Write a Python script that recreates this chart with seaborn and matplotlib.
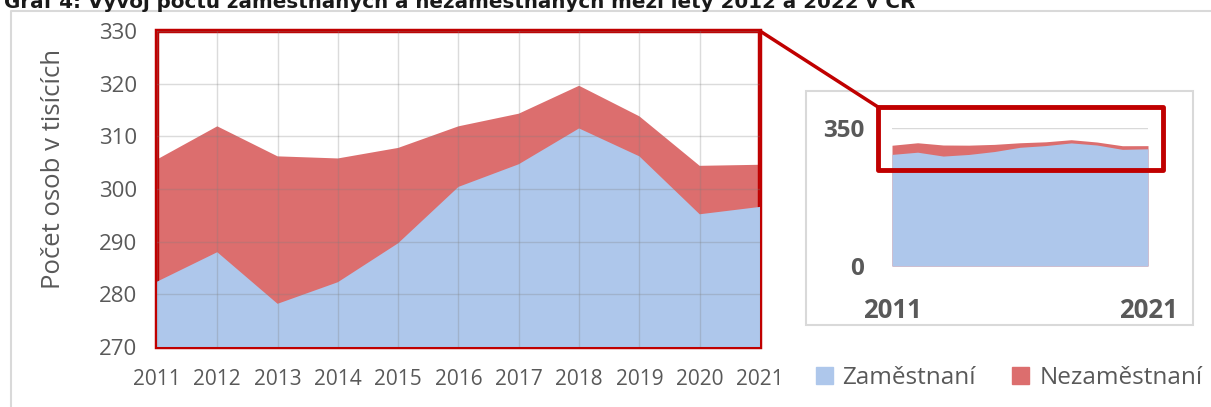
import numpy as np
import matplotlib.pyplot as plt
import seaborn as sns
from matplotlib.patches import Rectangle
from matplotlib.lines import Line2D

sns.set_style("white")
plt.rcParams['font.family'] = ['Open Sans', 'DejaVu Sans']

years = [2011, 2012, 2013, 2014, 2015, 2016, 2017, 2018, 2019, 2020, 2021]
zamestnani = [282.4, 288.0, 278.2, 282.3, 289.7, 300.4, 304.7, 311.5, 306.2, 295.2, 296.6]
nezamestnani = [23.2, 23.9, 28.0, 23.5, 18.1, 11.5, 9.6, 8.1, 7.6, 9.2, 8.0]
labels = ["Zaměstnaní", "Nezaměstnaní"]
title = "Graf 4: Vývoj počtu zaměstnaných a nezaměstnaných mezi lety 2012 a 2022 v ČR"

BLUE = "#AEC7EB"
RED = "#DC6E6E"
DARKRED = "#C00000"
GREY = "#595959"

W, H = 1211, 407
fig = plt.figure(figsize=(W / 100, H / 100), dpi=100)

def fx(px):
    return px / W

def fy(py):
    return 1 - py / H

# outer chart border
fig.add_artist(Line2D([fx(11), fx(11), 1], [0, fy(11), fy(11)], color="#D9D9D9", lw=1.5))
fig.text(fx(4), fy(7.5), title, fontsize=14.3, fontweight="bold", family="DejaVu Sans",
         color="#1a1a1a", va="baseline", ha="left")

# main chart
ax = fig.add_axes([fx(157), fy(347), fx(760) - fx(157), fy(31) - fy(347)])
total = np.array(zamestnani) + np.array(nezamestnani)
ax.fill_between(years, 0, total, color=RED, lw=0, zorder=1)
ax.add_patch(Rectangle((0, 0), 1, 1, transform=ax.transAxes, fill=False,
                       ec=DARKRED, lw=3.2, zorder=1.5, clip_on=False))
ax.fill_between(years, 0, zamestnani, color=BLUE, lw=0, zorder=2)
ax.set_xlim(2011, 2021)
ax.set_ylim(270, 330)
ax.set_xticks(years)
ax.set_yticks(range(270, 331, 10))
ax.grid(True, color="#7f7f7f", alpha=0.28, lw=1, zorder=3)
ax.set_axisbelow(False)
for s in ax.spines.values():
    s.set_visible(False)
ax.tick_params(axis="x", length=5, width=1, color="#D9D9D9", pad=11, labelsize=15, labelcolor=GREY)
ax.tick_params(axis="y", length=0, pad=14, labelsize=16, labelcolor=GREY)
ax.set_ylabel("Počet osob v tisících", fontsize=18.5, color=GREY, labelpad=24, y=0.565)

# inset overview chart
fig.add_artist(Rectangle((fx(806), fy(325)), fx(1193) - fx(806), fy(91) - fy(325),
                         transform=fig.transFigure, fill=False, ec="#D9D9D9", lw=1.5))
ins = fig.add_axes([fx(892), fy(266), fx(1148) - fx(892), fy(127.7) - fy(266)])
ins.fill_between(years, 0, total, color=RED, lw=0)
ins.fill_between(years, 0, zamestnani, color=BLUE, lw=0)
ins.set_xlim(2011, 2021)
ins.set_ylim(0, 350)
ins.set_yticks([0, 350])
ins.set_xticks([2011, 2021])
ins.grid(axis="y", color="#D9D9D9", lw=1)
ins.set_axisbelow(True)
for s in ins.spines.values():
    s.set_visible(False)
ins.tick_params(axis="x", length=10, width=1, color="#D9D9D9", pad=12, labelsize=18.5)
ins.tick_params(axis="y", length=0, pad=20, labelsize=17.5)
for t in ins.get_xticklabels() + ins.get_yticklabels():
    t.set_fontweight("bold")
    t.set_color(GREY)

# zoom highlight box and connector
fig.add_artist(Rectangle((fx(878), fy(170)), fx(1163) - fx(878), fy(107) - fy(170),
                         transform=fig.transFigure, fill=False, ec=DARKRED, lw=3.5, joinstyle="round"))
fig.add_artist(Line2D([fx(760), fx(878)], [fy(31), fy(107)], color=DARKRED, lw=2.5))

handles = [Rectangle((0, 0), 1, 1, color=BLUE), Rectangle((0, 0), 1, 1, color=RED)]
leg = fig.legend(handles, labels, loc="center", bbox_to_anchor=(fx(1009), fy(378)), ncol=2,
                 frameon=False, fontsize=17.5, handlelength=0.7, handleheight=0.7,
                 handletextpad=0.4, columnspacing=1.5, labelcolor=GREY)

fig.savefig("out.png", dpi=100)
